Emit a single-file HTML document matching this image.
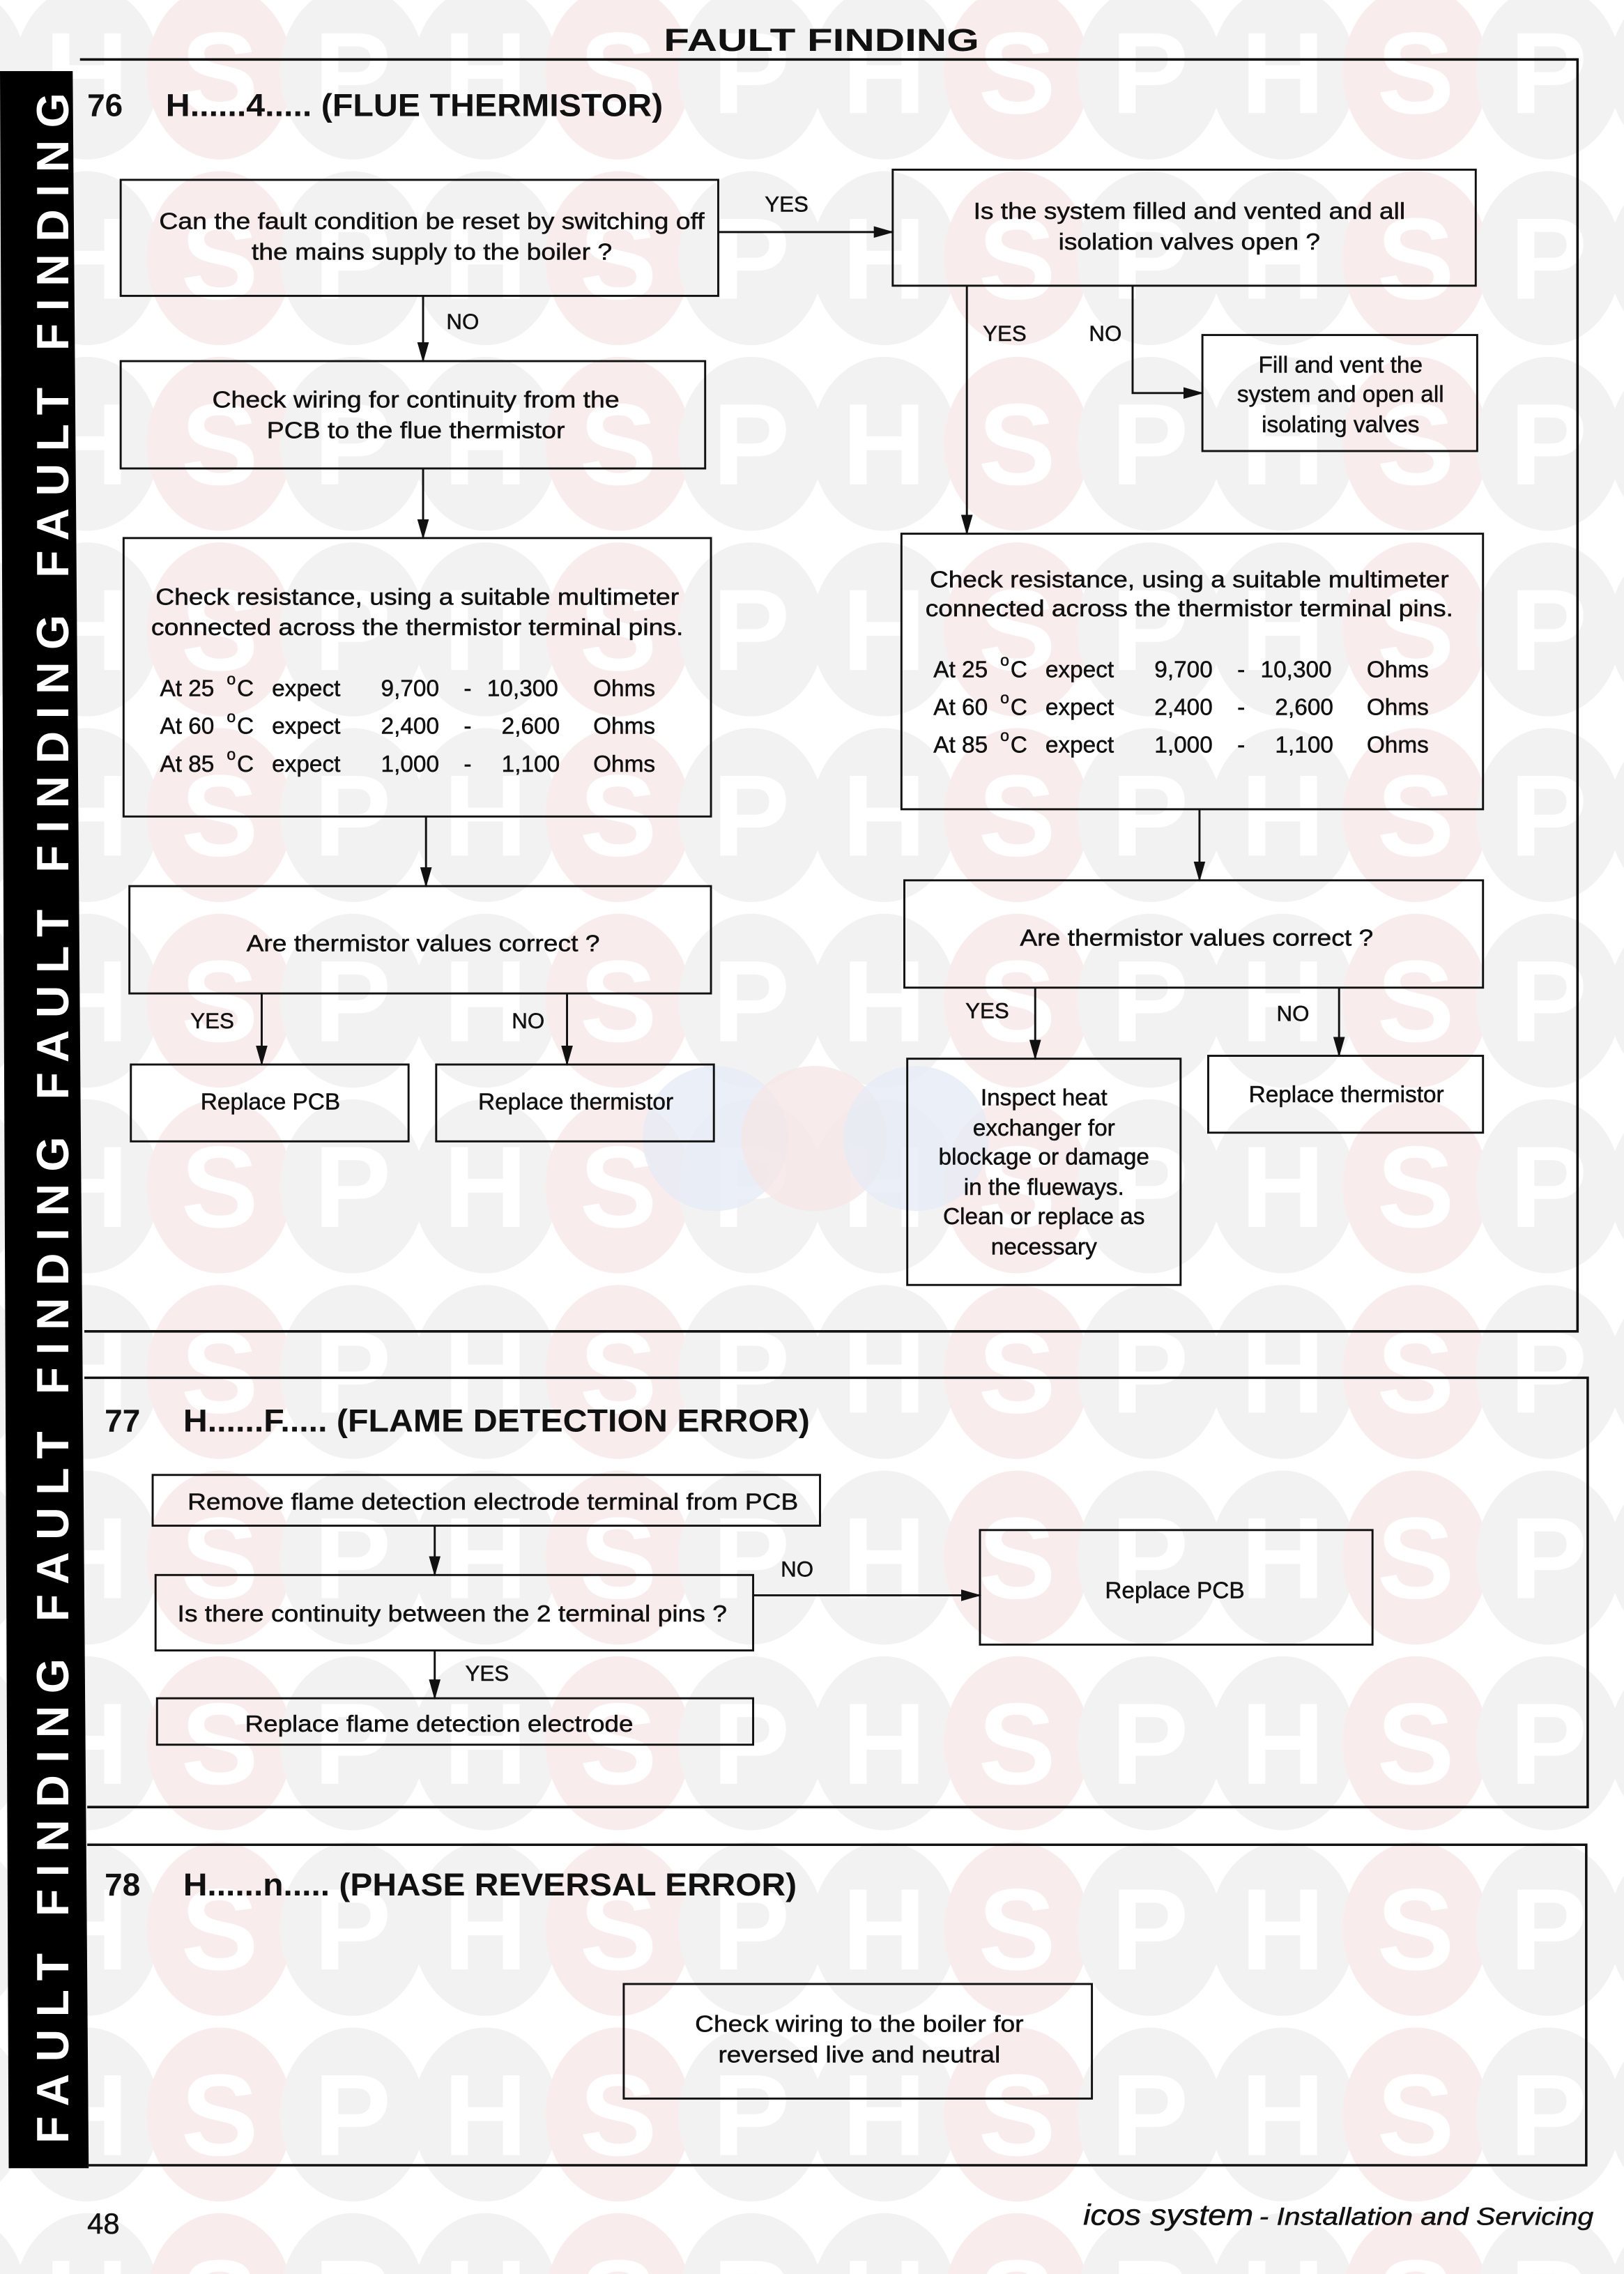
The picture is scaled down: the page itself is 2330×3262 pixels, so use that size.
<!DOCTYPE html>
<html><head><meta charset="utf-8"><style>
html,body{margin:0;padding:0;background:#fff;}
svg{display:block;}
text{font-family:"Liberation Sans",Arial,sans-serif;fill:#111;}
.b text{stroke:#111;stroke-width:0.25;}
</style></head><body>
<svg width="2330" height="3262" viewBox="0 0 2330 3262" xmlns="http://www.w3.org/2000/svg">
<defs>
<pattern id="wm" x="14" y="-14" width="274.2" height="128" patternUnits="userSpaceOnUse">
<ellipse cx="45.7" cy="64" rx="50" ry="60" fill="#f2f2f2"/>
<ellipse cx="137.1" cy="64" rx="50" ry="60" fill="#f8ecec"/>
<ellipse cx="228.5" cy="64" rx="50" ry="60" fill="#f2f2f2"/>
<text x="45.7" y="92" font-size="80" font-weight="bold" text-anchor="middle" style="fill:#fff">H</text>
<text x="137.1" y="92" font-size="80" font-weight="bold" text-anchor="middle" style="fill:#fff">S</text>
<text x="228.5" y="92" font-size="80" font-weight="bold" text-anchor="middle" style="fill:#fff">P</text>
</pattern>
<marker id="ar" markerWidth="14" markerHeight="10" refX="13" refY="4" orient="auto" markerUnits="userSpaceOnUse">
<path d="M0,0 L14,4 L0,8 z" fill="#111"/>
</marker>
</defs>
<g transform="scale(2.086,2.0804)">
<rect x="0" y="0" width="1117" height="1568" fill="url(#wm)"/>
<circle cx="492" cy="785" r="50" fill="#e6ebf5" opacity="0.8"/>
<circle cx="560" cy="785" r="50" fill="#f5e6e6" opacity="0.8"/>
<circle cx="630" cy="785" r="50" fill="#e6ebf5" opacity="0.8"/>

<text x="565" y="35" font-size="22" font-weight="bold" text-anchor="middle" textLength="217" lengthAdjust="spacingAndGlyphs">FAULT FINDING</text>

<polygon points="0,49 50,49 61,1495 6,1495" fill="#000"/>
<text transform="translate(47,1478) rotate(-90)" x="0" y="0" font-size="31" font-weight="bold" textLength="1414" lengthAdjust="spacing" style="fill:#fff">FAULT FINDING FAULT FINDING FAULT FINDING FAULT FINDING</text>

<g fill="none" stroke="#111" stroke-width="1.4">
<polyline points="55,41 1085,41 1085,918 58,918" stroke-width="1.7"/>
<polyline points="58,950 1092,950 1092,1246 60,1246" stroke-width="1.7"/>
<polyline points="60,1272 1091,1272 1091,1493 60,1493" stroke-width="1.7"/>
<rect x="83" y="124" width="411" height="80"/>
<rect x="614" y="117" width="401" height="80"/>
<rect x="83" y="249" width="402" height="74"/>
<rect x="827" y="231" width="189" height="80"/>
<rect x="85" y="371" width="404" height="192"/>
<rect x="620" y="368" width="400" height="190"/>
<rect x="89" y="611" width="400" height="74"/>
<rect x="622" y="607" width="398" height="74"/>
<rect x="90" y="734" width="191" height="53"/>
<rect x="300" y="734" width="191" height="53"/>
<rect x="624" y="730" width="188" height="156"/>
<rect x="831" y="728" width="189" height="53"/>
<rect x="105" y="1017" width="459" height="35"/>
<rect x="107" y="1086" width="411" height="52"/>
<rect x="674" y="1055" width="270" height="79"/>
<rect x="108" y="1171" width="410" height="32"/>
<rect x="429" y="1368" width="322" height="79"/>
<line x1="494" y1="160" x2="614" y2="160" marker-end="url(#ar)"/>
<line x1="291" y1="204" x2="291" y2="249" marker-end="url(#ar)"/>
<line x1="291" y1="323" x2="291" y2="371" marker-end="url(#ar)"/>
<line x1="293" y1="563" x2="293" y2="611" marker-end="url(#ar)"/>
<line x1="180" y1="685" x2="180" y2="734" marker-end="url(#ar)"/>
<line x1="390" y1="685" x2="390" y2="734" marker-end="url(#ar)"/>
<line x1="665" y1="197" x2="665" y2="368" marker-end="url(#ar)"/>
<polyline points="779,197 779,271 827,271" marker-end="url(#ar)"/>
<line x1="825" y1="558" x2="825" y2="607" marker-end="url(#ar)"/>
<line x1="712" y1="681" x2="712" y2="730" marker-end="url(#ar)"/>
<line x1="921" y1="681" x2="921" y2="728" marker-end="url(#ar)"/>
<line x1="299" y1="1052" x2="299" y2="1086" marker-end="url(#ar)"/>
<line x1="518" y1="1100" x2="674" y2="1100" marker-end="url(#ar)"/>
<line x1="299" y1="1138" x2="299" y2="1171" marker-end="url(#ar)"/>
</g>

<text x="60" y="80" font-size="22" font-weight="bold">76</text>
<text x="114" y="80" font-size="22" font-weight="bold" textLength="342" lengthAdjust="spacingAndGlyphs">H......4..... (FLUE THERMISTOR)</text>
<text x="72" y="987" font-size="22" font-weight="bold">77</text>
<text x="126" y="987" font-size="22" font-weight="bold" textLength="431" lengthAdjust="spacingAndGlyphs">H......F..... (FLAME DETECTION ERROR)</text>
<text x="72" y="1307" font-size="22" font-weight="bold">78</text>
<text x="126" y="1307" font-size="22" font-weight="bold" textLength="422" lengthAdjust="spacingAndGlyphs">H......n..... (PHASE REVERSAL ERROR)</text>

<g class="b">
<g font-size="16" text-anchor="middle">
<text x="297" y="158" textLength="375" lengthAdjust="spacingAndGlyphs">Can the fault condition be reset by switching off</text>
<text x="297" y="179" textLength="248" lengthAdjust="spacingAndGlyphs">the mains supply to the boiler ?</text>
<text x="818" y="151" textLength="297" lengthAdjust="spacingAndGlyphs">Is the system filled and vented and all</text>
<text x="818" y="172" textLength="180" lengthAdjust="spacingAndGlyphs">isolation valves open ?</text>
<text x="286" y="281" textLength="280" lengthAdjust="spacingAndGlyphs">Check wiring for continuity from the</text>
<text x="286" y="302" textLength="205" lengthAdjust="spacingAndGlyphs">PCB to the flue thermistor</text>
<text x="922" y="257">Fill and vent the</text>
<text x="922" y="277">system and open all</text>
<text x="922" y="298">isolating valves</text>
<text x="287" y="417" textLength="360" lengthAdjust="spacingAndGlyphs">Check resistance, using a suitable multimeter</text>
<text x="287" y="438" textLength="366" lengthAdjust="spacingAndGlyphs">connected across the thermistor terminal pins.</text>
<text x="818" y="405" textLength="357" lengthAdjust="spacingAndGlyphs">Check resistance, using a suitable multimeter</text>
<text x="818" y="425" textLength="363" lengthAdjust="spacingAndGlyphs">connected across the thermistor terminal pins.</text>
<text x="291" y="656" textLength="243" lengthAdjust="spacingAndGlyphs">Are thermistor values correct ?</text>
<text x="823" y="652" textLength="243" lengthAdjust="spacingAndGlyphs">Are thermistor values correct ?</text>
<text x="186" y="765">Replace PCB</text>
<text x="396" y="765">Replace thermistor</text>
<text x="926" y="760">Replace thermistor</text>
<text x="718" y="762">Inspect heat</text>
<text x="718" y="783">exchanger for</text>
<text x="718" y="803">blockage or damage</text>
<text x="718" y="824">in the flueways.</text>
<text x="718" y="844">Clean or replace as</text>
<text x="718" y="865">necessary</text>
<text x="339" y="1041" textLength="420" lengthAdjust="spacingAndGlyphs">Remove flame detection electrode terminal from PCB</text>
<text x="311" y="1118" textLength="378" lengthAdjust="spacingAndGlyphs">Is there continuity between the 2 terminal pins ?</text>
<text x="808" y="1102">Replace PCB</text>
<text x="302" y="1194" textLength="267" lengthAdjust="spacingAndGlyphs">Replace flame detection electrode</text>
<text x="591" y="1401" textLength="226" lengthAdjust="spacingAndGlyphs">Check wiring to the boiler for</text>
<text x="591" y="1422" textLength="194" lengthAdjust="spacingAndGlyphs">reversed live and neutral</text>
</g>

<g font-size="15">
<text x="526" y="146">YES</text>
<text x="307" y="227">NO</text>
<text x="676" y="235">YES</text>
<text x="749" y="235">NO</text>
<text x="131" y="709">YES</text>
<text x="352" y="709">NO</text>
<text x="664" y="702">YES</text>
<text x="878" y="704">NO</text>
<text x="537" y="1087">NO</text>
<text x="320" y="1159">YES</text>
</g>

<g font-size="16">
<g>
<text x="110" y="480">At 25</text><text x="156" y="472" font-size="11">o</text><text x="163" y="480">C</text><text x="187" y="480">expect</text>
<text x="262" y="480">9,700</text><text x="319" y="480">-</text><text x="335" y="480">10,300</text><text x="408" y="480">Ohms</text>
<text x="110" y="506">At 60</text><text x="156" y="498" font-size="11">o</text><text x="163" y="506">C</text><text x="187" y="506">expect</text>
<text x="262" y="506">2,400</text><text x="319" y="506">-</text><text x="345" y="506">2,600</text><text x="408" y="506">Ohms</text>
<text x="110" y="532">At 85</text><text x="156" y="524" font-size="11">o</text><text x="163" y="532">C</text><text x="187" y="532">expect</text>
<text x="262" y="532">1,000</text><text x="319" y="532">-</text><text x="345" y="532">1,100</text><text x="408" y="532">Ohms</text>
</g>
<g transform="translate(532,-13)">
<text x="110" y="480">At 25</text><text x="156" y="472" font-size="11">o</text><text x="163" y="480">C</text><text x="187" y="480">expect</text>
<text x="262" y="480">9,700</text><text x="319" y="480">-</text><text x="335" y="480">10,300</text><text x="408" y="480">Ohms</text>
<text x="110" y="506">At 60</text><text x="156" y="498" font-size="11">o</text><text x="163" y="506">C</text><text x="187" y="506">expect</text>
<text x="262" y="506">2,400</text><text x="319" y="506">-</text><text x="345" y="506">2,600</text><text x="408" y="506">Ohms</text>
<text x="110" y="532">At 85</text><text x="156" y="524" font-size="11">o</text><text x="163" y="532">C</text><text x="187" y="532">expect</text>
<text x="262" y="532">1,000</text><text x="319" y="532">-</text><text x="345" y="532">1,100</text><text x="408" y="532">Ohms</text>
</g>
</g>

<text x="60" y="1540" font-size="20">48</text>
<text x="745" y="1534" font-size="20" font-style="italic" textLength="117" lengthAdjust="spacingAndGlyphs">icos system</text>
<text x="866" y="1534" font-size="17" font-style="italic" textLength="230" lengthAdjust="spacingAndGlyphs">- Installation and Servicing</text>
</g>
</g>
</svg>
</body></html>
